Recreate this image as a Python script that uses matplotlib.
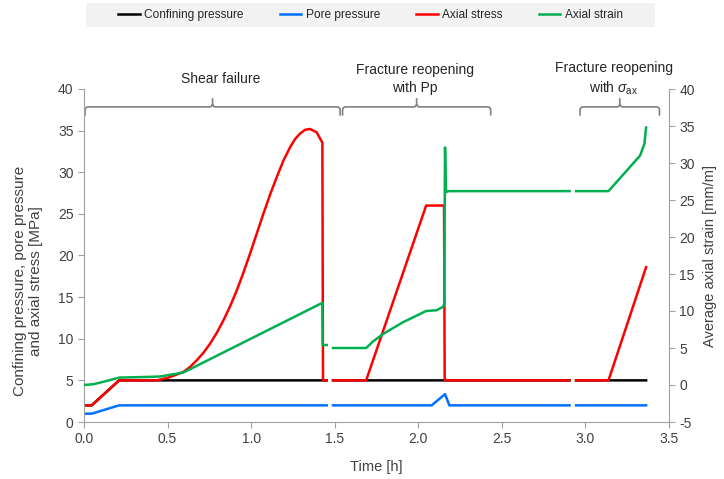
import numpy as np
import matplotlib
matplotlib.use("Agg")
import matplotlib.pyplot as plt
from matplotlib.path import Path
from matplotlib.patches import PathPatch, Rectangle

plt.rcParams['font.family'] = ['Liberation Sans', 'DejaVu Sans']
plt.rcParams['mathtext.fontset'] = 'custom'
plt.rcParams['mathtext.rm'] = 'Liberation Sans'
plt.rcParams['mathtext.it'] = 'Liberation Sans:italic'
plt.rcParams['axes.unicode_minus'] = False

nan = np.nan

# confining pressure [MPa]
conf_t = [0.0, 0.046, 0.21, 1.452, nan, 1.49, 2.905, nan, 2.944, 3.363]
conf_p = [2.0, 2.0, 5.0, 5.0, nan, 5.0, 5.0, nan, 5.0, 5.0]

# pore pressure [MPa]
pore_t = [0.0, 0.046, 0.21, 1.452, nan, 1.49, 2.08, 2.16, 2.186, 2.905, nan, 2.944, 3.363]
pore_p = [1.0, 1.0, 2.0, 2.0, nan, 2.0, 2.0, 3.35, 2.0, 2.0, nan, 2.0, 2.0]

# axial stress [MPa]
stress_t = [0.0, 0.046, 0.21, 0.435, 0.5, 0.594, 0.634, 0.674, 0.714, 0.754, 0.794, 0.834,
            0.874, 0.914, 0.953, 0.993, 1.033, 1.073, 1.113, 1.153, 1.193, 1.233, 1.263,
            1.293, 1.323, 1.352, 1.392, 1.422, 1.426, 1.43, 1.452, nan,
            1.49, 1.688, 2.047, 2.154, 2.158, 2.905, nan,
            2.944, 3.138, 3.363]
stress = [2.0, 2.0, 5.0, 5.0, 5.3, 6.0, 6.6, 7.4, 8.3, 9.4, 10.7, 12.2,
          13.9, 15.8, 17.9, 20.2, 22.6, 25.0, 27.3, 29.4, 31.4, 33.0, 34.0,
          34.65, 35.1, 35.2, 34.8, 33.7, 33.6, 5.0, 5.0, nan,
          5.0, 5.0, 26.0, 26.0, 5.0, 5.0, nan,
          5.0, 5.0, 18.6]

# average axial strain [mm/m]
strain_t = [0.0, 0.056, 0.136, 0.21, 0.395, 0.455, 0.594, 1.426, 1.428, 1.452, nan,
            1.49, 1.688, 1.73, 1.79, 1.91, 2.047, 2.11, 2.15, 2.155, 2.16, 2.166, 2.18, 2.905, nan,
            2.944, 3.138, 3.327, 3.353, 3.363]
strain = [0.0, 0.1, 0.55, 1.0, 1.1, 1.15, 1.68, 11.1, 5.4, 5.4, nan,
          5.0, 5.0, 5.9, 6.9, 8.5, 10.0, 10.1, 10.6, 11.0, 32.1, 26.05, 26.2, 26.2, nan,
          26.2, 26.2, 31.0, 32.6, 34.8]

# test phases (start, end in hours) and their labels
phase_spans = [(0.006, 1.532), (1.547, 2.433), (2.968, 3.443)]
phase_labels = ["Shear failure", "Fracture reopening\nwith Pp",
                "Fracture reopening\nwith $\\sigma_{\\mathregular{ax}}$"]
phase_label_x = [0.82, 1.98, 3.17]

grey = '#A0A0A0'
txt = '#404040'

fig = plt.figure(figsize=(7.24, 4.79), dpi=100)
ax = fig.add_axes([84/724, 1-422/479, 585/724, 333/479])
ax2 = ax.twinx()

l1, = ax.plot(conf_t, conf_p, color='black', lw=1.8, label='Confining pressure')
l2, = ax.plot(pore_t, pore_p, color='#0070FF', lw=1.8, label='Pore pressure')
l3, = ax.plot(stress_t, stress, color='#FF0000', lw=1.8, label='Axial stress')
l4, = ax2.plot(strain_t, strain, color='#00B050', lw=1.8, label='Axial strain')

ax.set_xlim(0, 3.5)
ax.set_ylim(0, 40)
ax2.set_ylim(-5, 40)
ax.set_xticks(np.arange(0, 3.51, 0.5))
ax.set_xticklabels([f"{v:.1f}" for v in np.arange(0, 3.51, 0.5)])
ax.set_yticks(range(0, 41, 5))
ax2.set_yticks(range(-5, 41, 5))

for a in (ax, ax2):
    a.spines['top'].set_visible(False)
    for s in a.spines.values():
        s.set_color(grey)
    a.tick_params(direction='out', length=4, color=grey, labelcolor=txt, labelsize=10)
ax.spines['right'].set_visible(False)
ax2.spines['left'].set_visible(False)
ax2.spines['bottom'].set_visible(False)

ax.set_xlabel("Time [h]", fontsize=10.5, color=txt, labelpad=10)
ax.set_ylabel("Confining pressure, pore pressure\nand axial stress [MPa]",
              fontsize=11, color=txt, linespacing=1.15)
ax.yaxis.set_label_coords(-0.07, 0.423)
ax2.set_ylabel("Average axial strain [mm/m]", fontsize=10.5, color=txt, labelpad=6)

# brackets over the phases
rx, ry = 0.018, 0.36
yh, yb, ytop = 37.85, 36.8, 38.9
for (x0, x1), lab, lx in zip(phase_spans, phase_labels, phase_label_x):
    xm = (x0 + x1) / 2
    verts = [(x0, yb), (x0, yh - ry), (x0, yh), (x0 + rx, yh), (xm - rx, yh), (xm, yh), (xm, yh + ry),
             (xm, ytop),
             (xm, yh + ry), (xm, yh), (xm + rx, yh), (x1 - rx, yh), (x1, yh), (x1, yh - ry), (x1, yb)]
    codes = [Path.MOVETO, Path.LINETO, Path.CURVE3, Path.CURVE3, Path.LINETO, Path.CURVE3, Path.CURVE3,
             Path.LINETO,
             Path.MOVETO, Path.CURVE3, Path.CURVE3, Path.LINETO, Path.CURVE3, Path.CURVE3, Path.LINETO]
    ax.add_patch(PathPatch(Path(verts, codes), facecolor='none', edgecolor='#808080', lw=1.2))
    ax.text(lx, 41.2, lab, ha='center', va='center', fontsize=10, color='#262626',
            linespacing=1.3, clip_on=False)

# legend on grey band
fig.add_artist(Rectangle((86/724, 1-27/479), 569/724, 24/479, transform=fig.transFigure,
                         facecolor='#F2F2F2', edgecolor='none', zorder=0))
fig.legend([l1, l2, l3, l4], [h.get_label() for h in (l1, l2, l3, l4)],
           loc='center', bbox_to_anchor=(370.5/724, 1-15/479), ncol=4, frameon=False,
           fontsize=8.6, handlelength=1.8, handletextpad=0.4, columnspacing=3.0,
           labelcolor='#262626')

fig.savefig('out.png', dpi=100)
